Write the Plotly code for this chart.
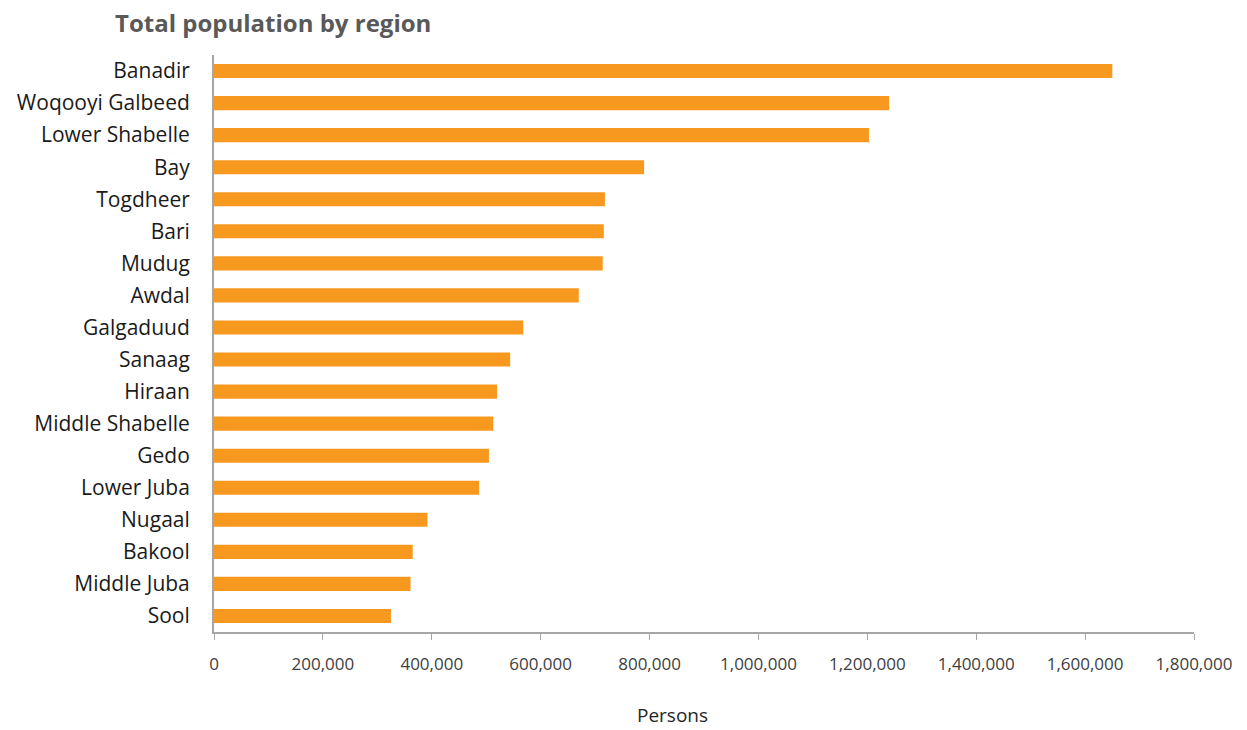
import plotly.graph_objects as go

regions = ["Banadir", "Woqooyi Galbeed", "Lower Shabelle", "Bay", "Togdheer", "Bari",
           "Mudug", "Awdal", "Galgaduud", "Sanaag", "Hiraan", "Middle Shabelle", "Gedo",
           "Lower Juba", "Nugaal", "Bakool", "Middle Juba", "Sool"]
population = [1650000, 1240000, 1203000, 790000, 718000, 716000,
              714000, 670000, 568000, 544000, 520000, 513000, 505000,
              487000, 392000, 365000, 361000, 325000]
x_ticks = [0, 200000, 400000, 600000, 800000, 1000000, 1200000, 1400000, 1600000, 1800000]

W, H = 1247, 730
L, R, T, B = 214, 53, 55, 98
pw, ph = W - L - R, H - T - B
FONT = "'Open Sans', Lato, sans-serif"

fig = go.Figure(go.Bar(
    x=population, y=regions, orientation="h",
    marker=dict(color="#F7991F", line=dict(width=0)),
    hoverinfo="x+y",
))

fig.update_layout(
    width=W, height=H,
    margin=dict(l=L, r=R, t=T, b=B, pad=0),
    paper_bgcolor="white", plot_bgcolor="white",
    bargap=0.56,
    showlegend=False,
    font=dict(family=FONT),
    xaxis=dict(
        range=[0, 1800000], tickvals=x_ticks, tickformat=",d",
        showgrid=False, zeroline=False,
        showline=True, linecolor="#A6A6A6", linewidth=2,
        ticks="outside", ticklen=6, tickcolor="#A6A6A6", tickwidth=1,
        tickfont=dict(size=17, color="#404040"),
        ticklabelstandoff=10,
    ),
    yaxis=dict(
        categoryorder="array", categoryarray=regions, autorange="reversed",
        showgrid=False, zeroline=False,
        showline=True, linecolor="#A6A6A6", linewidth=2,
        ticks="", tickfont=dict(size=21, color="#1A1A1A"),
        ticklabelstandoff=18,
    ),
    annotations=[
        dict(text="<b>Total population by region</b>", xref="paper", yref="paper",
             x=(113 - L) / pw, y=1 + (T - 22) / ph, xanchor="left", yanchor="middle",
             showarrow=False, font=dict(size=24, color="#595959")),
        dict(text="Persons", xref="paper", yref="paper",
             x=(672 - L) / pw, y=-(715 - (H - B)) / ph, xanchor="center", yanchor="middle",
             showarrow=False, font=dict(size=19, color="#262626")),
    ],
)

fig.write_html("out.html")
